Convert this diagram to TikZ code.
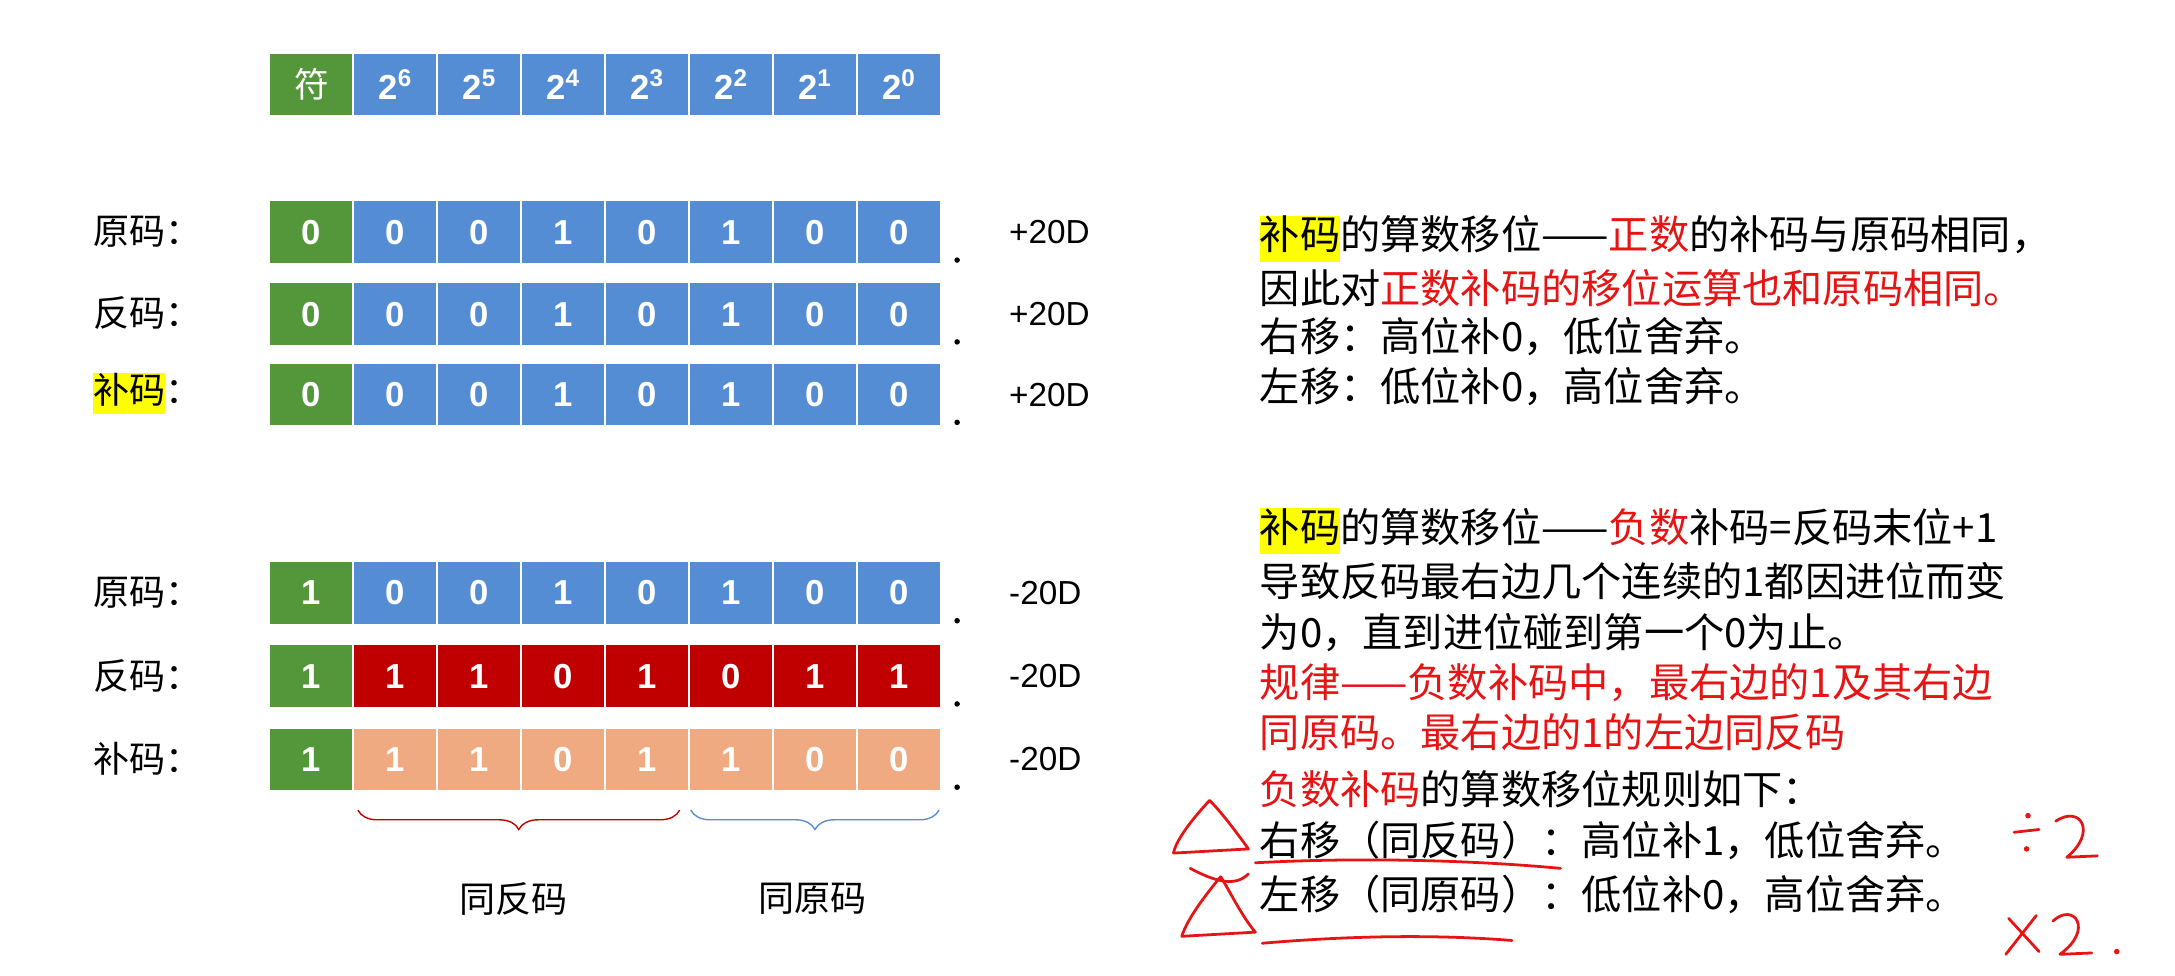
\documentclass[tikz,border=0pt]{standalone}
\usepackage{fontspec}
\setmainfont{Noto Sans CJK SC}
\newfontfamily\cellfont{Liberation Sans}
\usetikzlibrary{decorations.pathreplacing}
\definecolor{cg}{RGB}{84,150,58}
\definecolor{cb}{RGB}{84,141,212}
\definecolor{cr}{RGB}{192,0,0}
\definecolor{cs}{RGB}{240,170,130}
\definecolor{tr}{RGB}{230,20,20}
\definecolor{hl}{RGB}{255,255,0}
\newcommand{\hlt}[1]{\colorbox{hl}{\strut #1}}
\tikzset{cell/.style={draw=white,line width=1.5pt,minimum width=60.5pt,minimum height=46pt,inner sep=0,font=\cellfont\bfseries\fontsize{25}{25}\selectfont,text=white},
lab/.style={anchor=west,font=\fontsize{26}{26}\selectfont,inner sep=1pt},
val/.style={anchor=west,font=\cellfont\fontsize{24}{24}\selectfont},
dotn/.style={circle,fill=black,inner sep=0,minimum size=4pt},
rt/.style={anchor=west,font=\fontsize{29}{29}\selectfont,inner sep=0,setfboxsep},
setfboxsep/.code={\setlength{\fboxsep}{0pt}},
hand/.style={draw=tr,line width=2pt,line cap=round,line join=round}}
\begin{document}
\begin{tikzpicture}[x=1pt,y=-1pt]
\useasboundingbox (0,0) rectangle (1568,703);
% header
\node[cell,fill=cg,font=\fontsize{25}{25}\selectfont] (h0) at (224.5,61) {符};
\foreach \e [count=\i] in {6,5,4,3,2,1,0}
  \node[cell,fill=cb] (h\i) at ({224.5+\i*60.5},61) {2\textsuperscript{\e}};
% rows
\newcommand{\bitrow}[6]{% name y signcol col bits label
  \foreach \b [count=\i from 0] in {#5} {
    \ifnum\i=0 \node[cell,fill=cg] (#1\i) at (224.5,#2) {\b};
    \else \node[cell,fill=#4] (#1\i) at ({224.5+\i*60.5},#2) {\b}; \fi }
  \node[dotn] (#1d) at (690,{#2+20}) {};
  \node[val] (#1v) at (724,#2) {#6};}
\bitrow{a}{167.5}{cg}{cb}{0,0,0,1,0,1,0,0}{+20D}
\bitrow{b}{226.5}{cg}{cb}{0,0,0,1,0,1,0,0}{+20D}
\bitrow{c}{284.5}{cg}{cb}{0,0,0,1,0,1,0,0}{+20D}
\bitrow{d}{427.5}{cg}{cb}{1,0,0,1,0,1,0,0}{-20D}
\bitrow{e}{487.5}{cg}{cr}{1,1,1,0,1,0,1,1}{-20D}
\bitrow{f}{547.5}{cg}{cs}{1,1,1,0,1,1,0,0}{-20D}
\node[lab] (la) at (66,167) {原码：};
\node[lab] (lb) at (66,226) {反码：};
\node[lab] (lc) at (66,284) {{\setlength{\fboxsep}{0pt}\hlt{补码}}：};
\node[lab] (ld) at (66,427) {原码：};
\node[lab] (le) at (66,487) {反码：};
\node[lab] (lf) at (66,547) {补码：};
% braces
\draw[cr,line width=1pt,decorate,decoration={brace,mirror,amplitude=14pt}] (258,584) -- (490,584);
\draw[cb,line width=1pt,decorate,decoration={brace,mirror,amplitude=14pt}] (498,584) -- (677,584);
\node[font=\fontsize{26}{26}\selectfont] (t1) at (370,648) {同反码};
\node[font=\fontsize{26}{26}\selectfont] (t2) at (586,648) {同原码};
% right text
\node[rt] (r1) at (908,172) {\hlt{补码}的算数移位——\textcolor{tr}{正数}的补码与原码相同，};
\node[rt] (r2) at (908,208) {因此对\textcolor{tr}{正数补码的移位运算也和原码相同。}};
\node[rt] (r3) at (908,243) {右移：高位补0，低位舍弃。};
\node[rt] (r4) at (908,279) {左移：低位补0，高位舍弃。};
\node[rt] (s1) at (908,383) {\hlt{补码}的算数移位——\textcolor{tr}{负数}补码=反码末位+1};
\node[rt] (s2) at (908,419) {导致反码最右边几个连续的1都因进位而变};
\node[rt] (s3) at (908,456) {为0，直到进位碰到第一个0为止。};
\node[rt,text=tr] (s4) at (908,492) {规律——负数补码中，最右边的1及其右边};
\node[rt,text=tr] (s5) at (908,528) {同原码。最右边的1的左边同反码};
\node[rt] (s6) at (908,569) {\textcolor{tr}{负数补码}的算数移位规则如下：};
\node[rt] (s7) at (908,606) {右移（同反码）：高位补1，低位舍弃。};
\node[rt] (s8) at (908,645) {左移（同原码）：低位补0，高位舍弃。};
% handwriting
\draw[hand] (872,577) .. controls (860,590) and (848,605) .. (846,615) -- (900,612) .. controls (890,598) and (880,585) .. (872,577);
\draw[hand] (858,626) .. controls (875,635) and (890,640) .. (900,630);
\draw[hand] (880,632) .. controls (865,650) and (855,665) .. (852,675) -- (905,672) .. controls (895,660) and (888,645) .. (880,632);
\draw[hand] (905,622) .. controls (980,618) and (1060,620) .. (1125,626);
\draw[hand] (910,680) .. controls (980,674) and (1040,674) .. (1090,678);
\draw[hand] (1452,600) -- (1470,598); \fill[tr] (1462,588) circle (2pt); \fill[tr] (1461,612) circle (2pt);
\draw[hand] (1482,592) .. controls (1500,580) and (1512,600) .. (1490,618) -- (1512,617);
\draw[hand] (1448,662) -- (1470,686); \draw[hand] (1468,660) -- (1446,688);
\draw[hand] (1480,664) .. controls (1495,650) and (1510,670) .. (1485,688) -- (1508,687);
\fill[tr] (1526,686) circle (2pt);
\end{tikzpicture}
\end{document}
